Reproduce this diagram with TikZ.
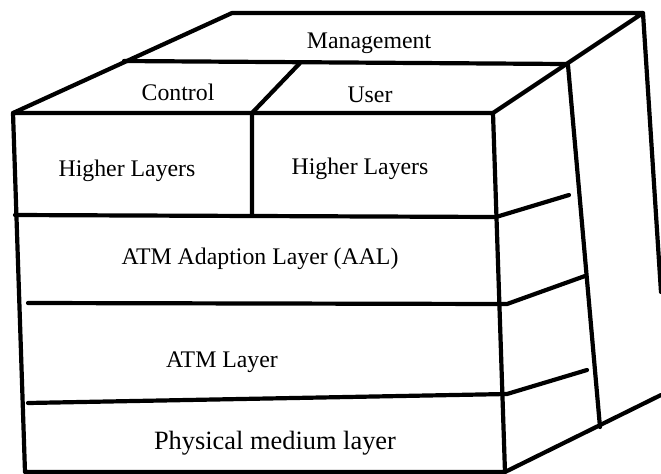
\documentclass[tikz,border=0pt]{standalone}
\usepackage{fontspec}
\setmainfont{Liberation Serif}

\tikzset{
    edge/.style={line width=2.1pt, line cap=round, line join=round},
    lbl/.style={inner sep=0pt, font=\fontsize{11.9}{14}\selectfont},
    biglbl/.style={inner sep=0pt, font=\fontsize{13.2}{15}\selectfont},
}

\begin{document}
\begin{tikzpicture}[x=0.5pt, y=-0.5pt]
    \useasboundingbox (0,0) rectangle (661,473);

    \coordinate (ftl) at (13,113);
    \coordinate (ftr) at (493,113);
    \coordinate (fbl) at (25,472);
    \coordinate (fbr) at (505,472);
    \coordinate (btl) at (232,13);
    \coordinate (btr) at (643,13);
    \coordinate (rout) at (661,292);
    \coordinate (bout) at (661,395);
    \coordinate (mgl) at (124,61);
    \coordinate (mgr) at (566,64);
    \coordinate (sbt) at (568,65);
    \coordinate (sbb) at (600,427);
    \coordinate (cut) at (300,63);
    \coordinate (cub) at (252,113);
    \coordinate (hlb) at (252,215);

    \coordinate (hll) at (15,215);
    \coordinate (hlr) at (496,217);
    \coordinate (hls) at (569,195);
    \coordinate (aall) at (28,303);
    \coordinate (aalr) at (507,304);
    \coordinate (aals) at (585,276);
    \coordinate (atml) at (28,403);
    \coordinate (atmr) at (507,394);
    \coordinate (atms) at (587,370);

    \node[lbl] (mgmt) at (369,43) {Management};
    \node[lbl] (ctrl) at (178,92) {Control};
    \node[lbl] (user) at (370,95) {User};
    \node[lbl] (hictrl) at (127,171) {Higher Layers};
    \node[lbl] (hiuser) at (360,169) {Higher Layers};
    \node[lbl] (aal) at (260,259) {ATM Adaption Layer (AAL)};
    \node[lbl] (atm) at (222,362) {ATM Layer};
    \node[biglbl] (phy) at (275,443) {Physical medium layer};

    % outline
    \draw[edge] (ftl) -- (ftr) -- (fbr) -- (fbl) -- cycle;
    \draw[edge] (ftl) -- (btl) -- (btr) -- (ftr);
    \draw[edge] (btr) -- (rout);
    \draw[edge] (fbr) -- (bout);
    \draw[edge] (sbt) -- (sbb);
    \draw[edge] (mgl) -- (mgr);
    \draw[edge] (cut) -- (cub) -- (hlb);

    % layers
    \draw[edge] (hll) -- (hlr) -- (hls);
    \draw[edge] (aall) -- (aalr) -- (aals);
    \draw[edge] (atml) -- (atmr) -- (atms);
\end{tikzpicture}
\end{document}
